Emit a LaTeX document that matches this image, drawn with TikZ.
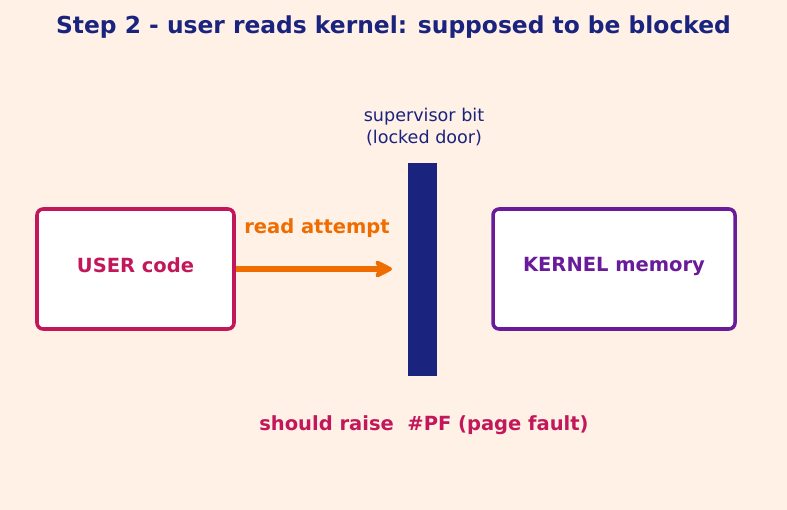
\documentclass[tikz,border=0pt]{standalone}
\usepackage{fontspec}
\setmainfont{DejaVu Sans}
\usepackage{xcolor}
\usetikzlibrary{positioning,arrows.meta}

\definecolor{bgcream}{HTML}{FFF1E6}
\definecolor{navy}{HTML}{1A237E}
\definecolor{usercol}{HTML}{C2185B}
\definecolor{kernelcol}{HTML}{6A1B9A}
\definecolor{readcol}{HTML}{EF6C00}

\tikzset{
    membox/.style={draw, fill=white, line width=2pt, rounded corners=3.5pt},
    boldlbl/.style={font=\bfseries\fontsize{11.1}{13}\selectfont},
    lbl/.style={font=\fontsize{10}{12}\selectfont, align=center, text=navy}
}

\begin{document}
\begin{tikzpicture}[x=0.02cm, y=-0.02cm]
    \fill[bgcream] (0,0) rectangle (787,510);
    \useasboundingbox (0,0) rectangle (787,510);

    \node[font=\bfseries\fontsize{13.3}{16}\selectfont, text=navy] (title) at (393.5,27) {Step 2 - user reads kernel: supposed to be blocked};

    % Boxes
    \node[membox, draw=usercol, minimum width=197*0.02cm, minimum height=120*0.02cm] (user) at (135.5,269) {};
    \node[boldlbl, text=usercol] (usertxt) at (135.5,265) {USER code};
    \node[membox, draw=kernelcol, minimum width=242*0.02cm, minimum height=120*0.02cm] (kernel) at (614,269) {};
    \node[boldlbl, text=kernelcol] (kerneltxt) at (614,266) {KERNEL memory};

    % Supervisor bit
    \fill[navy] (408,163) rectangle (437,376);
    \node[lbl] (sup) at (424,127) {supervisor bit\\(locked door)};

    % Read attempt
    \coordinate (tip) at (392,269);
    \draw[readcol, line width=2.9pt, -{Stealth[length=12pt, width=12pt, inset=3pt, round]}] (user.east) -- (tip);
    \node[boldlbl, text=readcol] (readlbl) at (317,228) {read attempt};

    \node[boldlbl, text=usercol] (pf) at (424,425) {should raise\ \ \#PF (page fault)};
\end{tikzpicture}
\end{document}
